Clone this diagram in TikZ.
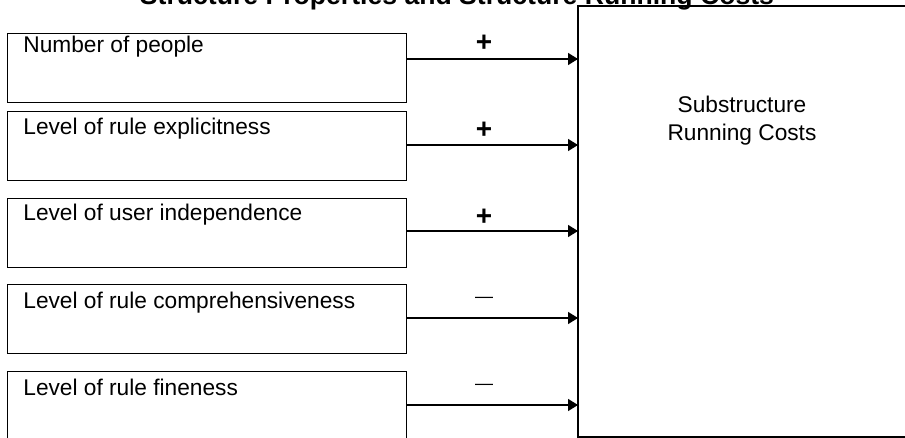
\documentclass[tikz,border=0pt]{standalone}
\usepackage{fontspec}
\setmainfont{Liberation Sans}
\usetikzlibrary{arrows.meta}
\begin{document}
\begin{tikzpicture}[x=0.5pt,y=-0.5pt,
  propbox/.style={draw, line width=0.65pt, rectangle, anchor=north west,
    minimum width=199.5pt, minimum height=34.5pt, inner sep=0pt},
  proptext/.style={anchor=base west, inner sep=0pt,
    font=\fontsize{11.35}{14}\selectfont},
  link/.style={line width=0.75pt, -{Triangle[length=5pt,width=6pt]}},
  plus/.style={inner sep=0pt, font=\bfseries\fontsize{14}{14}\selectfont},
  minus/.style={inner sep=0pt, font=\fontsize{9}{9}\selectfont}]
\useasboundingbox (0,0) rectangle (905,438);

% heading, partly above the page edge
\node[anchor=base, inner sep=0pt, font=\bfseries\fontsize{13.3}{16}\selectfont]
  (title) at (457,5) {Structure Properties and Structure Running Costs};

% target box, its right side lies past the page edge
\draw[line width=0.6pt] (578,6) rectangle (916,437);
\node[draw=none, inner sep=0pt, minimum width=165pt, minimum height=215.5pt,
  anchor=north west] (costs) at (578,6) {};
\node[align=center, inner sep=0pt, font=\fontsize{11.35}{14}\selectfont]
  (costlabel) at (742,121) {Substructure\\Running Costs};

% property boxes
\node[propbox] (b1) at (7,33) {};
\node[propbox] (b2) at (7,111) {};
\node[propbox] (b3) at (7,198) {};
\node[propbox] (b4) at (7,284) {};
\node[propbox] (b5) at (7,371) {};

\node[proptext] (t1) at (23,53) {Number of people};
\node[proptext] (t2) at (23,135) {Level of rule explicitness};
\node[proptext] (t3) at (23,221) {Level of user independence};
\node[proptext] (t4) at (23,308) {Level of rule comprehensiveness};
\node[proptext] (t5) at (23,395) {Level of rule fineness};

% influences
\path (b1.north east) ++(0,26) coordinate (s1);
\path (b2.north east) ++(0,34) coordinate (s2);
\path (b3.north east) ++(0,33) coordinate (s3);
\path (b4.north east) ++(0,34) coordinate (s4);
\path (b5.north east) ++(0,34) coordinate (s5);

\draw[link] (s1) -- (s1 -| costs.west) node[plus, pos=0.45, yshift=8pt] (p1) {+};
\draw[link] (s2) -- (s2 -| costs.west) node[plus, pos=0.45, yshift=7.5pt] (p2) {+};
\draw[link] (s3) -- (s3 -| costs.west) node[plus, pos=0.45, yshift=7pt] (p3) {+};
\draw[link] (s4) -- (s4 -| costs.west) node[minus, pos=0.45, yshift=9pt] (m4) {—};
\draw[link] (s5) -- (s5 -| costs.west) node[minus, pos=0.45, yshift=9pt] (m5) {—};
\end{tikzpicture}
\end{document}
